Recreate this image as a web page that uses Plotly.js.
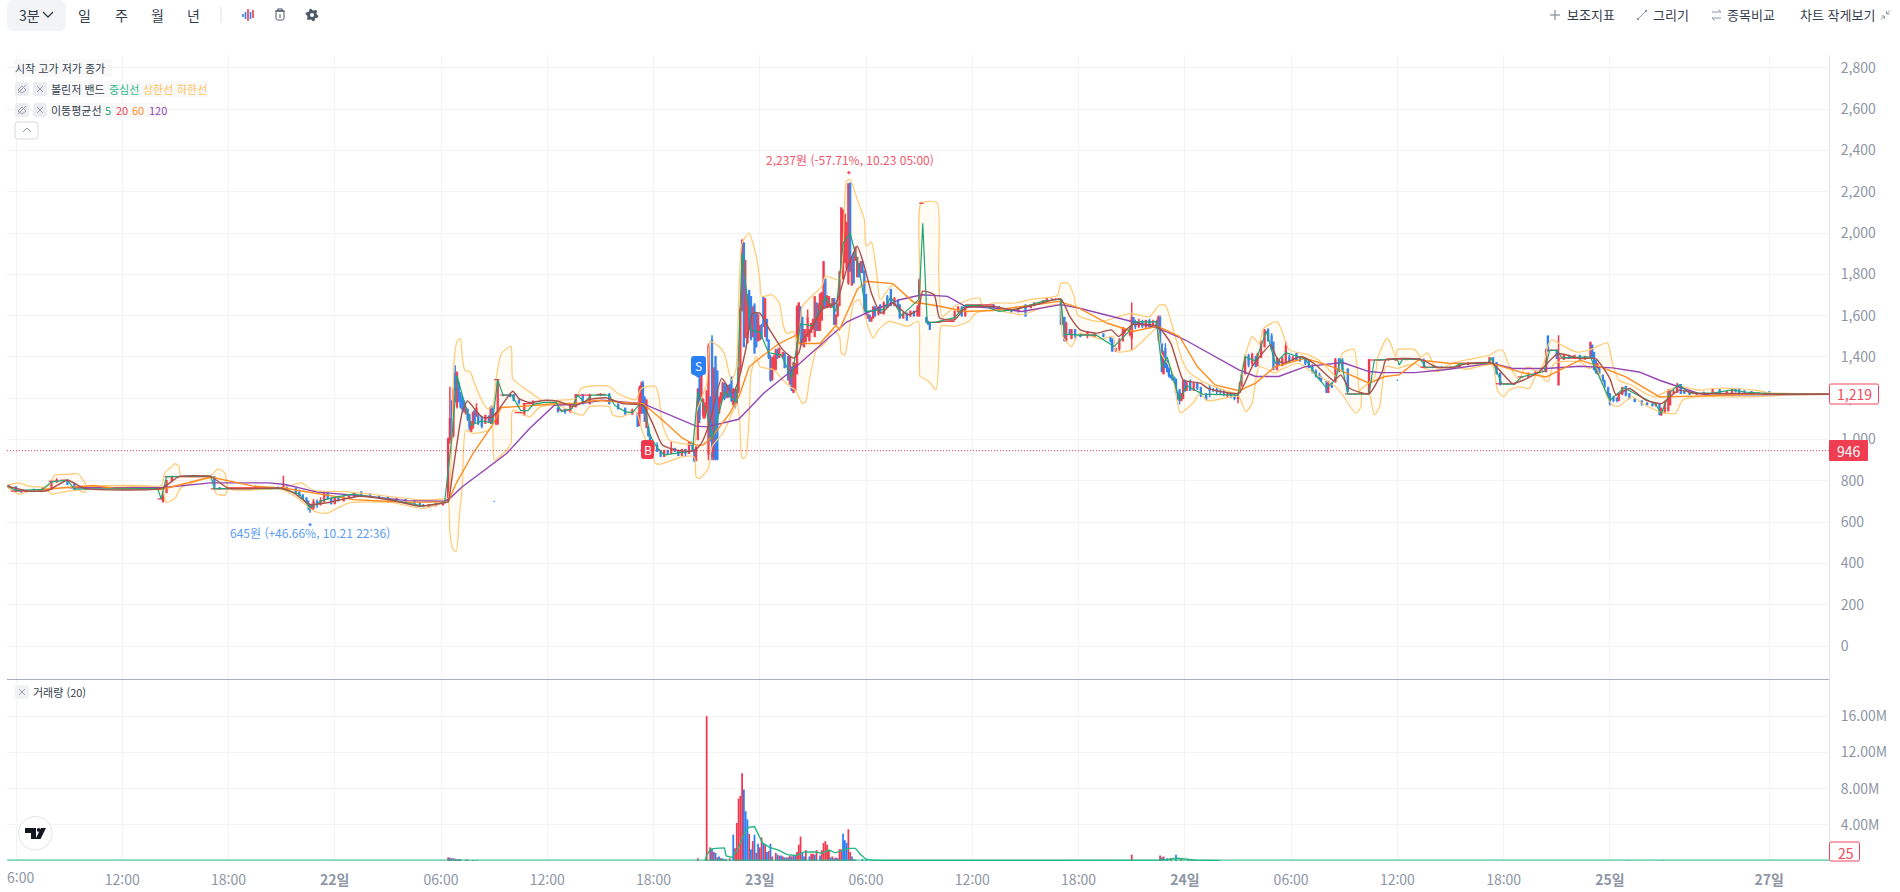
<!DOCTYPE html>
<html lang="ko">
<head>
<meta charset="utf-8">
<script src="https://cdn.plot.ly/plotly-3.0.1.min.js"></script>
<style>html,body{margin:0;padding:0;background:#fff;overflow:hidden}#chart{width:1900px;height:892px}</style>
</head>
<body>
<div id="chart"></div>
<script>
// Time unit: trading hours since 06:00 on the 21st.
const timeTicks = [0,6,12,18,24,30,36,42,48,54,60,66,72,78,84,90,99];
const timeTickText = ['','12:00','18:00','<b>22일</b>','06:00','12:00','18:00','<b>23일</b>','06:00','12:00','18:00','<b>24일</b>','06:00','12:00','18:00','<b>25일</b>','<b>27일</b>'];
const priceTicks = [0,200,400,600,800,1000,1200,1400,1600,1800,2000,2200,2400,2600,2800];
const volumeTicks = [4,8,12,16];
const volumeTickText = ['4.00M','8.00M','12.00M','16.00M'];

const candleTime = [
-0.4,0,0.3,0.6,1.0,1.5,2.0,2.3,2.9,3.3,
8.0,8.3,8.5,8.8,11.2,11.5,13.5,14.8,15.1,15.3,
15.8,16.0,16.2,16.4,16.5,16.6,16.7,16.8,17.0,17.2,
17.4,17.6,17.8,18.0,18.2,18.5,18.8,19.1,19.5,20.0,
20.5,21,21.5,22,22.5,22.8,23,23.3,23.7,24.1,
24.4,24.5,24.6,24.7,24.8,24.9,25,25.1,25.2,25.3,
25.4,25.5,25.6,25.7,25.8,25.9,26,26.1,26.3,26.5,
26.7,26.8,26.9,27,27.1,27.2,27.5,27.9,28.1,28.4,
28.7,29.2,30.6,31,31.3,31.6,32,32.4,33,33.5,
34,34.4,34.8,35.1,35.2,35.3,35.4,35.5,35.6,35.7,
35.8,35.9,36,36.2,36.4,36.6,36.8,37,37.2,37.4,
37.6,37.8,38,38.1,38.2,38.3,38.4,38.5,38.6,38.7,
38.8,38.9,39,39.1,39.2,39.3,39.4,39.5,39.6,39.7,
39.8,39.9,40,40.1,40.2,40.3,40.4,40.5,40.6,40.7,
40.8,40.9,41,41.1,41.2,41.3,41.4,41.5,41.6,41.7,
41.8,41.9,42,42.1,42.2,42.3,42.4,42.5,42.6,42.7,
42.8,42.9,43,43.1,43.3,43.4,43.6,43.7,43.8,43.9,
44,44.1,44.2,44.3,44.4,44.5,44.6,44.7,44.8,44.9,
45,45.1,45.2,45.3,45.4,45.5,45.6,45.7,45.8,45.9,
46,46.1,46.2,46.3,46.4,46.5,46.6,46.7,46.8,46.9,
47,47.1,47.2,47.3,47.4,47.5,47.6,47.7,47.8,47.9,
48,48.1,48.2,48.3,48.4,48.5,48.7,48.8,49,49.2,
49.4,49.6,49.8,49.9,50.1,50.3,50.5,50.7,50.9,51,
51.1,51.2,51.4,51.5,51.6,52.2,53,53.2,53.4,53.6,
54.4,54.8,55.2,55.5,55.8,56.2,56.6,57,57.3,57.5,
57.8,58,58.2,58.5,58.7,58.9,59,59.1,59.2,59.3,
59.5,59.6,59.8,60.1,60.5,60.9,61.4,61.8,61.9,62.1,
62.3,62.5,62.6,62.9,63,63.1,63.2,63.4,63.6,63.8,
64,64.2,64.4,64.5,64.6,64.7,64.8,64.9,65,65.1,
65.2,65.3,65.4,65.5,65.6,65.7,65.8,65.9,66,66.1,
66.3,66.5,66.7,66.9,67.2,67.4,67.6,67.8,68,68.2,
68.4,68.6,68.8,69,69.1,69.2,69.4,69.6,69.8,70,
70.1,70.3,70.5,70.7,70.9,71,71.2,71.3,71.5,71.7,
71.9,72.1,72.3,72.5,72.8,73,73.2,73.4,73.6,73.7,
74,74.1,74.3,74.5,74.7,74.9,75.2,75.6,76,76.4,
77,77.5,77.9,78,78.5,79,79.5,80,80.5,81,
81.5,82,82.5,83,83.2,83.4,83.6,83.8,84.2,84.6,
85,85.4,85.8,86.2,86.4,86.5,86.7,87,87.1,87.4,
87.7,88,88.3,88.6,88.9,89,89.1,89.2,89.3,89.4,
89.6,89.7,89.9,90,90.2,90.4,90.5,90.7,90.9,91.1,
91.4,91.8,92.1,92.4,92.6,92.8,92.9,93.1,93.3,93.4,
93.6,93.8,94,94.2,94.5,94.9,95.3,95.8,96.2,96.6,
96.9,97.1,97.3,97.6,98,98.4,98.8,99,99.5,100];
const candleOpen = [
775,770,750,752,758,755,760,795,800,785,
760,700,745,800,818,765,772,768,768,775,
760,745,730,715,700,680,665,670,700,690,
700,740,715,690,720,705,720,725,745,735,
725,718,710,708,705,690,680,678,680,685,
700,1000,1100,1020,1320,1160,1270,1220,1200,1180,
1130,1145,1120,1040,1060,1140,1120,1120,1110,1080,
1110,1085,1160,700,1080,1080,1215,1215,1215,1190,
1120,1170,1150,1140,1135,1160,1215,1175,1215,1218,
1170,1150,1125,1125,1075,1130,1270,1200,1060,1060,
1020,985,950,970,945,920,945,935,955,945,
925,950,935,985,975,950,900,1000,1290,1200,
1120,1110,1140,930,1200,1480,910,1400,1330,1130,
1180,1200,1270,1260,1210,1260,1300,1170,1240,1180,
1240,1340,1630,1950,1500,1470,1720,1690,1500,1650,
1610,1480,1485,1550,1690,1500,1580,1480,1400,1290,
1340,1340,1430,1400,1400,1415,1400,1270,1350,1230,
1240,1320,1470,1640,1590,1450,1480,1500,1480,1520,
1540,1500,1660,1530,1530,1580,1640,1775,1640,1645,
1640,1650,1680,1560,1600,1650,1810,1780,1860,1830,
1760,2240,1750,1900,1870,1790,1850,1810,1860,1815,
1700,1590,1600,1575,1590,1640,1610,1650,1610,1690,
1725,1650,1670,1650,1590,1610,1600,1620,1600,1600,
2144,2144,1590,1570,1560,1570,1590,1620,1640,1600,
1650,1650,1650,1640,1630,1625,1620,1650,1640,1650,
1660,1660,1670,1680,1680,1680,1670,1560,1590,1480,
1530,1490,1530,1510,1510,1500,1510,1490,1480,1430,
1440,1480,1520,1510,1490,1590,1570,1550,1570,1550,
1575,1550,1570,1570,1590,1460,1320,1440,1380,1340,
1310,1310,1300,1290,1220,1240,1190,1200,1280,1240,
1280,1240,1270,1250,1215,1250,1240,1240,1235,1235,
1215,1220,1210,1200,1230,1260,1320,1405,1370,1400,
1360,1400,1450,1530,1500,1470,1340,1380,1360,1370,
1400,1390,1415,1390,1390,1380,1350,1330,1310,1300,
1280,1230,1270,1280,1385,1380,1340,1221,1221,1221,
1385,1385,1385,1287,1388,1389,1380,1350,1350,1350,
1350,1365,1368,1370,1370,1395,1370,1320,1268,1268,
1303,1303,1320,1330,1330,1500,1432,1432,1265,1390,
1405,1395,1405,1395,1405,1455,1420,1380,1320,1345,
1310,1280,1250,1220,1205,1200,1190,1220,1255,1220,
1195,1185,1175,1170,1165,1170,1120,1130,1140,1170,
1225,1230,1265,1230,1225,1220,1222,1225,1240,1225,
1230,1240,1245,1235,1230,1225,1225,1230,1219,1219];
const candleClose = [
770,752,748,750,755,762,792,803,785,760,
760,745,800,820,765,762,768,768,775,770,
745,730,715,705,680,662,672,698,685,705,
740,715,690,720,705,720,725,740,735,725,
718,710,712,705,690,682,678,680,685,690,
1000,1100,1020,1240,1240,1320,1190,1160,1150,1140,
1150,1100,1060,1075,1130,1090,1150,1080,1065,1115,
1090,1155,1085,700,1125,1280,1215,1210,1190,1180,
1170,1180,1140,1135,1160,1215,1175,1215,1218,1175,
1150,1125,1140,1065,1245,1260,1130,1090,1190,1020,
985,950,970,945,920,945,935,955,945,925,
950,935,985,975,950,900,960,1240,1100,1350,
1190,1170,1230,1450,1000,920,1340,910,905,1200,
1220,1270,1200,1210,1260,1210,1190,1240,1160,1240,
1340,1630,1960,1450,1680,1700,1540,1490,1640,1420,
1450,1600,1550,1490,1550,1680,1480,1400,1290,1390,
1400,1430,1400,1440,1420,1350,1290,1400,1240,1370,
1360,1640,1660,1470,1460,1530,1490,1590,1530,1560,
1580,1690,1530,1650,1700,1710,1860,1645,1690,1690,
1650,1680,1560,1600,1650,1810,2120,2110,2090,2050,
2237,1820,1880,1760,1930,1880,1790,1860,1810,1620,
1610,1600,1575,1590,1640,1600,1640,1615,1660,1640,
1650,1680,1640,1590,1610,1580,1620,1600,1640,1770,
2144,2144,1570,1560,1535,1570,1620,1640,1600,1645,
1650,1650,1640,1630,1625,1620,1630,1600,1650,1660,
1660,1670,1680,1680,1680,1680,1560,1590,1480,1560,
1510,1530,1510,1500,1520,1510,1500,1480,1430,1440,
1480,1540,1530,1530,1590,1570,1550,1570,1550,1575,
1550,1570,1555,1590,1470,1330,1420,1350,1330,1310,
1300,1290,1280,1230,1200,1190,1220,1280,1240,1270,
1240,1270,1250,1215,1195,1240,1240,1235,1235,1225,
1220,1210,1200,1220,1270,1310,1400,1365,1410,1355,
1410,1460,1530,1480,1440,1340,1390,1360,1390,1450,
1380,1395,1385,1385,1370,1350,1330,1310,1300,1290,
1230,1280,1255,1385,1330,1340,1235,1221,1221,1385,
1385,1385,1388,1287,1389,1390,1350,1350,1350,1350,
1365,1368,1370,1370,1395,1370,1320,1268,1268,1268,
1303,1320,1330,1330,1432,1430,1432,1395,1395,1405,
1395,1405,1395,1400,1470,1400,1340,1330,1365,1320,
1285,1255,1215,1175,1190,1190,1215,1250,1215,1200,
1185,1175,1170,1165,1170,1125,1150,1170,1235,1230,
1230,1260,1225,1225,1220,1222,1225,1240,1225,1230,
1245,1235,1230,1230,1225,1225,1220,1222,1219,1219];
const candleHigh = [
785,772,756,756,762,770,800,812,805,790,
765,750,805,825,820,770,775,772,825,778,
765,750,735,720,705,685,690,712,710,720,
748,745,720,725,728,725,730,745,750,740,
730,722,718,712,708,695,688,686,692,695,
1010,1255,1190,1250,1360,1330,1280,1230,1215,1190,
1160,1150,1125,1090,1135,1145,1175,1125,1115,1120,
1118,1160,1165,702,1130,1290,1220,1225,1220,1195,
1175,1190,1160,1150,1170,1220,1220,1222,1225,1225,
1175,1155,1150,1130,1260,1280,1285,1210,1195,1065,
1025,990,980,985,950,950,950,990,960,950,
955,955,990,990,980,955,970,1250,1320,1360,
1200,1180,1240,1465,1210,1505,1350,1405,1335,1210,
1230,1280,1275,1270,1265,1270,1305,1250,1245,1245,
1350,1640,1970,1955,1870,1705,1725,1695,1645,1660,
1615,1610,1555,1560,1695,1685,1585,1485,1410,1400,
1410,1440,1440,1445,1425,1420,1405,1405,1355,1375,
1370,1650,1665,1645,1595,1535,1535,1630,1535,1565,
1585,1695,1665,1660,1710,1715,1865,1780,1700,1695,
1660,1685,1685,1605,1660,1815,2125,2115,2095,2055,
2237,2245,1890,1905,1935,1885,1855,1865,1865,1820,
1705,1610,1605,1595,1645,1645,1645,1655,1670,1700,
1730,1690,1680,1655,1620,1615,1625,1625,1650,1780,
2147,2148,1595,1575,1565,1575,1625,1645,1645,1650,
1655,1655,1655,1645,1635,1630,1635,1655,1655,1665,
1665,1675,1685,1685,1685,1685,1675,1595,1595,1570,
1535,1535,1535,1515,1525,1515,1515,1500,1490,1445,
1490,1545,1540,1545,1664,1590,1580,1585,1580,1580,
1585,1580,1580,1600,1600,1466,1430,1466,1385,1350,
1315,1320,1305,1295,1230,1245,1225,1290,1290,1280,
1290,1280,1280,1255,1225,1265,1250,1255,1245,1240,
1230,1230,1220,1225,1281,1321,1410,1415,1420,1405,
1420,1480,1535,1539,1515,1474,1400,1390,1402,1474,
1410,1405,1420,1395,1395,1385,1365,1340,1325,1305,
1285,1285,1275,1395,1395,1395,1345,1224,1224,1390,
1390,1390,1392,1289,1392,1392,1392,1355,1355,1355,
1370,1375,1375,1375,1400,1398,1375,1325,1272,1272,
1306,1325,1335,1335,1440,1505,1436,1436,1505,1410,
1410,1410,1410,1405,1473,1460,1425,1385,1372,1350,
1315,1290,1255,1225,1210,1205,1220,1255,1258,1225,
1200,1190,1180,1175,1180,1175,1155,1185,1245,1240,
1240,1275,1268,1235,1230,1228,1232,1245,1245,1235,
1250,1250,1248,1238,1235,1230,1228,1232,1222,1220];
const candleLow = [
762,748,742,745,750,750,755,790,780,755,
755,695,740,795,760,758,765,765,765,765,
740,725,710,690,660,645,660,660,670,680,
695,710,685,688,700,700,715,720,730,720,
712,705,704,700,685,675,672,672,675,680,
700,980,1010,1010,1180,1150,1180,1150,1140,1130,
1120,1090,1045,1035,1050,1080,1110,1070,1055,1075,
1085,1075,1075,698,1070,1070,1210,1205,1185,1170,
1115,1165,1130,1125,1130,1155,1170,1170,1210,1170,
1145,1120,1120,1060,1065,1125,1125,1085,1055,1015,
980,945,945,940,915,915,930,930,940,920,
920,915,930,970,945,890,895,1000,1080,1190,
1100,1100,1130,900,990,900,900,900,900,1125,
1170,1195,1190,1200,1200,1205,1180,1165,1150,1170,
1225,1320,1620,1450,1490,1465,1530,1480,1495,1415,
1445,1475,1480,1485,1545,1495,1475,1390,1280,1285,
1335,1335,1390,1395,1395,1345,1285,1265,1235,1225,
1235,1315,1465,1465,1455,1445,1470,1495,1475,1515,
1530,1495,1525,1525,1525,1575,1635,1640,1635,1640,
1635,1645,1555,1555,1595,1645,1805,1775,1855,1825,
1750,1810,1745,1755,1865,1785,1785,1805,1805,1615,
1600,1585,1570,1570,1585,1595,1600,1610,1605,1635,
1645,1645,1630,1585,1585,1575,1595,1595,1595,1595,
2140,2140,1565,1555,1530,1565,1585,1615,1595,1595,
1645,1645,1635,1625,1620,1615,1615,1595,1635,1645,
1655,1655,1665,1675,1675,1675,1555,1555,1475,1475,
1505,1485,1490,1495,1490,1495,1495,1470,1425,1425,
1430,1475,1510,1500,1434,1555,1535,1540,1540,1540,
1540,1545,1545,1480,1465,1325,1315,1345,1325,1300,
1295,1285,1275,1225,1190,1170,1185,1195,1230,1235,
1235,1235,1240,1205,1190,1205,1230,1215,1220,1210,
1205,1200,1190,1175,1225,1256,1315,1350,1355,1350,
1355,1395,1445,1475,1435,1335,1335,1355,1355,1365,
1375,1380,1380,1375,1360,1345,1320,1300,1290,1280,
1225,1225,1250,1275,1325,1335,1230,1218,1218,1218,
1380,1380,1380,1285,1385,1385,1345,1345,1345,1345,
1345,1360,1365,1365,1365,1365,1315,1262,1264,1264,
1298,1300,1318,1325,1325,1425,1428,1390,1263,1385,
1390,1390,1385,1385,1400,1395,1335,1320,1315,1310,
1280,1250,1205,1165,1180,1180,1185,1215,1210,1195,
1180,1165,1165,1160,1160,1118,1115,1125,1135,1165,
1220,1225,1220,1220,1215,1216,1220,1222,1220,1222,
1225,1228,1225,1225,1220,1220,1218,1218,1217,1218];

// Stretches where the price did not move (start, end, gap).
const flatTime = [-0.3,0.7,null,1.2,1.8,null,1.85,2.4,null,2.5,3,null,8,8.3,null,8.4,11,null,11,12,null,12,15,null,27,27.3,null,27.35,27.95,null,28.15,28.6,null,28.6,29.2,null,30.6,31.35,null,31.6,32.4,null,32.75,33.3,null,34.85,35.4,null,51,51.2,null,51.5,52.2,null,52.2,53,null,53.6,55.2,null,60.1,61,null,75.05,76.4,null,76.4,77.35,null,77.35,79.3,null,79.3,80.25,null,81.2,83.35,null,83.55,84.7,null,84.8,85.15,null,86.5,87.05,null,87.15,88.8,null,99,102.4];
const flatPrice = [750,750,null,757,757,null,798,798,null,803,803,null,712,712,null,820,820,null,761,761,null,766,766,null,1290,1290,null,1215,1215,null,1130,1130,null,1174,1174,null,1142,1142,null,1215,1215,null,1218,1218,null,1174,1174,null,2144,2144,null,1567,1567,null,1572,1572,null,1652,1652,null,1506,1506,null,1221,1221,null,1385,1385,null,1389,1389,null,1350,1350,null,1369,1369,null,1270,1270,null,1303,1303,null,1432,1432,null,1394,1394,null,1219,1219];

const ma120Time = [3,8.2,11,14.3,15.2,17,19.8,22.1,24.2,24.5,25.2,27,27.7,29,30.4,31.6,33.1,35.4,36.5,38.4,39,40.8,41.4,42.2,43.7,45,46.3,46.9,48,49.9,51.15,52.6,53.6,55.2,56.8,59,60,62.65,64.5,66,67.7,69.05,70,71.3,72.8,74.9,76.4,77.1,79,80.9,83.35,84.5,86.4,88.3,90.15,91.65,92.8,93.9,95,95.75,99.5,102.4];
const ma120Price = [766,766,790,790,782,745,725,704,701,715,771,884,932,1053,1166,1171,1190,1174,1134,1065,1061,1098,1150,1223,1327,1424,1521,1569,1612,1677,1701,1693,1645,1637,1620,1653,1637,1580,1539,1483,1402,1337,1305,1305,1353,1373,1329,1324,1324,1340,1370,1344,1344,1355,1347,1327,1287,1255,1223,1215,1219,1219];

const ma60Time = [1.4,4.4,5.5,8.2,11,13.4,15.2,17.3,19.1,22,24.2,24.4,24.85,25.8,26.9,27.4,28.6,29.6,30.6,31.6,32.8,33.9,35.4,36.5,37.65,38.4,38.8,39.3,40.3,40.85,41.4,42.2,43.1,44.05,44.2,45.4,46.3,46.5,47.5,48,49.5,50.75,51.05,52.15,53.6,55.2,57.6,58.9,60,61.6,63.05,64.45,65.7,66.7,67.7,69.05,70,71.1,72.8,74.3,76.4,77.3,78.1,79.2,80.9,83.35,85.1,86.4,88.3,89.2,90.9,91.85,92.8,94.85,97.65,102.4];
const ma60Price = [758,777,764,758,818,774,764,734,709,696,696,698,787,932,1069,1155,1161,1166,1174,1174,1190,1182,1174,1094,1005,973,973,1013,1126,1215,1352,1408,1465,1505,1465,1465,1553,1531,1726,1766,1755,1661,1661,1645,1620,1625,1653,1669,1637,1564,1523,1548,1499,1353,1264,1236,1273,1353,1393,1353,1273,1305,1313,1385,1369,1368,1323,1303,1384,1360,1303,1255,1206,1210,1219,1219];

const ma20Time = [-0.5,0.7,1.8,2.9,3.9,8.2,9.2,11,12,15,15.7,16.6,17.5,18.2,19.4,21.2,22.8,24.2,24.4,24.65,25.2,25.5,25.8,26.35,26.9,27.5,28.05,28.4,29,29.9,30.6,31.45,32.4,33.3,34.25,35.4,35.95,36.5,37.3,38.3,38.7,39.15,39.85,40.45,40.75,41.2,41.6,42,42.5,43.3,43.9,44.2,44.4,44.9,45.5,46.3,46.9,47.5,47.9,48.3,48.85,49.5,50.35,50.95,51.2,51.85,52.15,53,53.6,55.2,56.2,57.6,59,59.5,60.1,61,61.85,62.25,63.05,64.45,65.2,65.9,66.3,66.9,67.3,69.05,69.8,70.85,71.15,71.5,72.6,73.4,74.4,74.8,75.3,76.4,77.15,77.35,79.3,80.25,81.2,81.85,83.35,84.5,85.1,86,87.05,88.3,89.2,90,90.35,91.1,92.05,92.9,93.9,94.85,97.65,99,102.4];
const ma20Price = [775,750,753,803,763,763,820,820,764,764,740,685,693,706,725,706,677,693,698,835,1134,1187,1158,1106,1110,1174,1234,1198,1179,1190,1185,1161,1194,1202,1174,1166,1077,973,948,945,981,1078,1296,1224,1272,1434,1612,1612,1539,1434,1394,1418,1483,1531,1629,1661,1823,1936,1839,1710,1612,1661,1604,1629,1718,1701,1588,1580,1637,1645,1629,1653,1680,1596,1531,1515,1531,1499,1556,1548,1467,1288,1280,1272,1248,1224,1353,1458,1402,1369,1402,1361,1285,1313,1248,1221,1329,1385,1389,1350,1350,1366,1370,1271,1287,1327,1416,1392,1392,1295,1215,1247,1190,1174,1239,1223,1223,1219,1219];

const ma5Time = [-0.4,0,1.5,2,2.9,3.3,8,8.2,8.5,11,11.2,15,16,16.6,17.3,18,19,21,23,24.2,24.6,24.9,25.2,25.7,26.3,26.9,27.2,27.5,28,28.5,28.9,29.2,29.8,30.5,30.8,31.4,31.7,32.1,32.5,33.5,33.8,34.4,34.8,35.2,35.5,35.8,36.2,36.6,37.4,38.2,38.5,39,39.3,39.6,40,40.7,41,41.5,42,42.5,43.2,43.8,44.3,45,45.7,46.3,46.7,47.1,47.6,48,49,49.4,50,51,51.2,51.45,52,53,53.6,54.5,55.5,56.5,58,59,59.2,60,61,62,62.8,63.1,64.4,64.7,65,65.7,66.1,67,69,69.4,70,70.6,71.1,71.7,72.6,72.8,73.5,74,74.5,74.8,75.2,76.4,76.7,78,78.1,78.3,79.3,79.6,81.2,81.5,83.1,83.3,83.9,84.6,85,86.3,86.6,87,87.3,88.9,89.2,90,90.8,92.6,92.9,93.4,93.9,94.5,95.8,96.9,97.6,99,102.4];
const ma5Price = [770,752,758,795,803,760,762,712,820,823,762,763,735,670,705,720,735,712,678,695,1000,1310,1215,1070,1090,1080,1290,1215,1215,1140,1140,1170,1180,1180,1135,1150,1215,1180,1215,1215,1165,1135,1130,1170,1160,1020,960,925,935,945,1230,1130,1000,1100,1230,1180,1900,1530,1520,1420,1410,1300,1560,1550,1690,1620,1950,2000,1830,1620,1630,1690,1600,1680,2047,1565,1570,1590,1650,1650,1620,1630,1670,1680,1510,1505,1505,1450,1520,1570,1570,1350,1400,1190,1260,1220,1215,1400,1380,1525,1370,1420,1395,1390,1300,1250,1290,1390,1220,1221,1385,1389,1360,1389,1389,1350,1350,1366,1370,1395,1268,1268,1303,1330,1432,1432,1395,1400,1340,1190,1250,1170,1125,1230,1265,1225,1225,1240,1230,1222,1219];

const bbUpperTime = [-0.5,0.2,0.7,1.8,2.2,2.9,3.5,3.9,4,5.5,8.2,8.4,8.8,9,9.2,9.3,11,11.4,11.8,12,15,16.1,16.8,18.7,21,22.8,24.2,24.4,24.75,24.9,25.1,25.2,25.35,25.65,25.9,26.3,26.6,26.9,27.1,27.4,27.95,28.05,28.6,29.4,29.7,30.6,31.6,31.9,32.4,33.5,34,35,35.3,36.1,36.3,36.5,36.9,38.3,38.4,39,39.2,39.8,40,40.4,40.65,41,41.4,41.6,41.8,42,42.1,42.7,43.1,43.3,43.5,43.9,44.2,44.4,45.5,45.7,46.5,46.7,46.9,47.1,47.5,47.9,48,48.3,48.6,48.8,49.5,49.9,50.7,51,51.1,52,52.1,52.3,53,53.8,54.4,54.6,55.2,56.4,57.4,58.8,59,59.4,59.75,59.95,61.2,62.95,64,64.55,64.9,65.3,65.85,66.2,67.2,68.9,69.05,69.25,69.8,70.2,70.45,71.2,71.5,71.9,73,73.8,74.55,74.9,75.55,75.85,75.9,76.7,76.9,77.4,77.6,77.9,78,79,79.3,79.7,80.25,81.2,81.85,83.2,83.65,83.95,84.3,84.9,85.1,85.45,85.9,86.3,86.5,86.75,87.3,88.1,88.8,89.85,90.15,90.5,91.25,92,92.6,92.95,93.9,95,95.8,97.1,98.2,99,100.1,102.4];
const bbUpperPrice = [780,790,774,774,828,831,834,790,774,777,777,838,870,883,870,826,826,858,838,763,765,790,754,748,725,709,712,715,1400,1473,1489,1400,1335,1327,1270,1190,1150,1158,1287,1416,1451,1295,1255,1206,1190,1190,1198,1247,1258,1258,1222,1193,1247,1258,1206,1077,997,980,1126,1271,1475,1442,1416,1288,1337,1953,2000,1953,1888,1774,1693,1701,1661,1564,1515,1523,1450,1645,1742,1790,1774,1936,2252,2260,2163,2066,1936,1956,1807,1677,1750,1726,1661,1677,2144,2147,1807,1596,1645,1677,1685,1645,1661,1661,1680,1697,1757,1757,1692,1603,1571,1611,1595,1651,1651,1547,1385,1329,1272,1224,1232,1353,1498,1466,1539,1571,1522,1434,1410,1369,1305,1418,1437,1224,1240,1300,1400,1490,1470,1400,1434,1434,1400,1418,1340,1372,1385,1408,1432,1432,1360,1287,1335,1352,1327,1376,1456,1484,1456,1424,1432,1468,1368,1287,1263,1223,1206,1223,1258,1239,1247,1247,1239,1226,1223,1219];

const bbLowerTime = [-0.5,0.2,0.7,1.8,2,2.8,3.5,3.9,4,8.2,8.5,9,9.3,11,11.3,11.8,12,15,15.9,16.8,17.5,18.2,18.9,21.2,23,24.2,24.4,24.5,24.65,24.85,25.05,25.2,25.4,25.8,26.7,26.9,27,27.4,27.95,28.05,29,29.6,30.6,31.6,32,32.4,33.5,33.7,34.2,35,35.4,35.8,36.1,36.4,37.6,38.3,38.4,38.6,39.1,39.3,39.9,40.4,40.7,40.85,41,41.2,41.4,41.5,41.8,42,42.8,43.3,43.7,44,44.4,44.6,44.8,45.2,45.7,46.1,46.5,46.6,46.8,47,47.3,47.6,47.9,48.1,48.4,48.7,49.3,50.35,50.95,51.05,51.25,51.55,51.95,52.15,52.25,53,53.8,54.2,55.2,56.8,57.6,58.9,59.1,59.6,59.9,60.1,61.25,61.95,62.15,63.05,64.45,64.65,65.25,65.75,66.45,66.85,67.25,68.9,69.05,69.45,69.8,70.2,71.1,71.4,72.45,73,74.5,74.9,75.65,75.95,76,76.4,76.7,77,77.35,78,79,79.3,80.25,81.2,81.85,83.35,83.65,84,84.3,84.9,85.45,85.9,86.5,86.85,88.3,88.8,89.2,89.85,90.15,90.5,91.25,91.85,92.8,93.7,94.1,94.85,97.65,99,100.1,102.4];
const bbLowerPrice = [770,735,748,751,735,748,755,743,765,765,695,717,765,810,738,730,760,757,717,654,642,670,695,695,666,695,697,545,472,456,642,771,1045,1029,1045,1069,900,924,980,1142,1110,1158,1166,1126,1118,1158,1158,1118,1110,1134,1029,965,884,881,916,916,819,811,860,965,1029,1118,1174,1110,908,916,1110,1320,1402,1353,1337,1288,1256,1240,1175,1183,1288,1434,1467,1531,1499,1418,1410,1499,1661,1677,1612,1548,1491,1531,1572,1548,1572,1305,1297,1280,1240,1483,1551,1548,1572,1612,1628,1604,1628,1653,1499,1450,1499,1515,1486,1499,1426,1434,1539,1418,1337,1130,1175,1224,1188,1211,1208,1135,1176,1353,1321,1337,1369,1337,1256,1216,1127,1160,1221,1221,1119,1160,1353,1345,1369,1353,1329,1353,1340,1361,1239,1206,1239,1255,1247,1319,1279,1368,1376,1344,1352,1206,1166,1161,1206,1174,1134,1126,1190,1206,1206,1210,1216,1219];

const volumeUpTime = [24.4,24.6,24.8,25,25.4,25.8,38.5,39,39.2,39.4,39.6,39.8,40,40.3,40.6,40.7,40.8,40.9,41,41.4,41.6,41.8,42,42.1,42.3,42.5,42.7,42.9,43.1,43.3,43.5,43.7,43.9,44.1,44.2,44.3,44.6,44.9,45,45.2,45.5,45.6,45.7,45.8,45.9,46.1,46.3,46.5,46.6,47,47.1,47.3,63,64.6,64.8,65.2,65.8,66.4];
const volumeUp = [.4,.3,.25,.2,.15,.1,.3,16,1.5,1,.4,.3,.2,.3,1.4,4.2,6.9,7.2,9.7,3,2.2,.9,1.5,2.6,1.8,1.1,.5,.9,.6,.5,.4,.6,.6,1,1.8,2.7,1.2,.8,.8,1.2,1.2,2,2.2,1.8,1.1,.5,.4,1.3,1.3,3.5,1,.2,.7,.6,.5,.3,.3,.15];
const volumeDownTime = [24.5,24.7,24.9,25.1,25.5,26,39.3,39.5,39.7,39.9,40.1,40.5,41.1,41.2,41.3,41.5,41.7,41.9,42.2,42.4,42.6,43,43.2,43.4,43.6,43.8,44,44.4,44.5,44.8,45.1,45.4,46,46.2,46.4,46.7,46.8,46.9,47.2,47.4,47.8,48,64.7,65,65.5,66.2,66.6,91,93];
const volumeDown = [.35,.3,.2,.2,.15,.1,1.3,.9,.5,.3,.2,2.9,7.9,5.5,4.6,1.3,2.9,1.9,2,1,1.9,.7,.6,.4,.4,.5,.6,1,.5,.5,.7,.6,.4,.3,.3,3,2.3,2,.5,.15,.2,.1,.4,.3,.7,.2,.15,.05,.05];
const volumeMaTime = [38.9,39,39.2,39.5,40,40.1,40.45,40.75,41.05,41.35,41.7,41.95,42.15,42.55,43.05,43.55,44.05,44.5,45.2,45.5,45.9,46.25,47,47.4,47.7,48,48.5,51.3,63,64.6,65.6,66.65,68];
const volumeMa = [.04,.6,1.3,1.4,1.45,.55,.4,1.3,2.7,3.7,3.8,2.7,2,1.5,1.2,.7,.6,1,1,.85,1.2,.9,1.4,1.4,.7,.2,.07,.05,.05,.1,.3,.1,.04];
const volumeBaseTime = [-0.5,102.4];
const volumeBase = [.04,.04];

const lastPrice = 1219, avgBuyPrice = 946, lastVolume = 25;

const RED='#f0394f', BLUE='#2b7ff5', GREEN='#1fa573', BROWN='#a8504b', ORANGE='#ff8c1f', PURPLE='#9345b4', BAND='#ffca73', GRID='#f2f3f5', TICK='#8d96a5', INK='#333d4b';
const KR='"Noto Sans CJK KR","Noto Sans",sans-serif';
const W=1900,H=892, L=7,R=1829;
const px=x=>x/W, py=y=>1-y/H;

function lineTrace(x,y,color,width,xa,ya,extra){
  return Object.assign({type:'scatter',mode:'lines',x,y,xaxis:xa,yaxis:ya,hoverinfo:'skip',line:{color,width}},extra||{});
}
const traces=[
  {type:'bar',x:volumeUpTime,y:volumeUp,width:0.1,marker:{color:RED,line:{width:0}},xaxis:'x',yaxis:'y',hoverinfo:'skip'},
  {type:'bar',x:volumeDownTime,y:volumeDown,width:0.1,marker:{color:BLUE,line:{width:0}},xaxis:'x',yaxis:'y',hoverinfo:'skip'},
  lineTrace(volumeBaseTime,volumeBase,'rgba(45,190,135,0.62)',2.6,'x','y',{cliponaxis:false}),
  lineTrace(volumeMaTime,volumeMa,'#25b884',1.4,'x','y'),
  lineTrace(bbUpperTime,bbUpperPrice,BAND,1.2,'x2','y2',{line:{color:BAND,width:1.2,shape:'spline',smoothing:0.6}}),
  lineTrace(bbLowerTime,bbLowerPrice,BAND,1.2,'x2','y2',{line:{color:BAND,width:1.2,shape:'spline',smoothing:0.6},fill:'tonexty',fillcolor:'rgba(255,205,110,0.07)'}),
  {type:'candlestick',x:candleTime,open:candleOpen,high:candleHigh,low:candleLow,close:candleClose,xaxis:'x2',yaxis:'y2',whiskerwidth:0,hoverinfo:'skip',
    increasing:{line:{color:RED,width:1.5},fillcolor:RED},decreasing:{line:{color:BLUE,width:1.5},fillcolor:BLUE}},
  lineTrace(flatTime,flatPrice,RED,1.2,'x2','y2',{connectgaps:false}),
  lineTrace(ma120Time,ma120Price,PURPLE,1.4,'x2','y2'),
  lineTrace(ma60Time,ma60Price,ORANGE,1.4,'x2','y2'),
  lineTrace(ma5Time,ma5Price,GREEN,1.2,'x2','y2'),
  lineTrace(ma20Time,ma20Price,BROWN,1.4,'x2','y2',{line:{color:BROWN,width:1.4,shape:'spline',smoothing:0.5}}),
];

// ---- chrome helpers ----
const shapes=[], annotations=[];
function rrect(x0,y0,x1,y1,r,fill,stroke,below){
  const P=(x,y)=>px(x)+','+py(y);
  const d='M'+P(x0+r,y0)+' L'+P(x1-r,y0)+' Q'+P(x1,y0)+' '+P(x1,y0+r)+' L'+P(x1,y1-r)+' Q'+P(x1,y1)+' '+P(x1-r,y1)+' L'+P(x0+r,y1)+' Q'+P(x0,y1)+' '+P(x0,y1-r)+' L'+P(x0,y0+r)+' Q'+P(x0,y0)+' '+P(x0+r,y0)+' Z';
  shapes.push({type:'path',path:d,xref:'paper',yref:'paper',fillcolor:fill||'rgba(0,0,0,0)',line:{color:stroke||'rgba(0,0,0,0)',width:stroke?1:0},layer:below?'below':'above'});
}
function poly(pts,color,width,closed,fill){
  const d='M'+pts.map(p=>px(p[0])+','+py(p[1])).join(' L')+(closed?' Z':'');
  shapes.push({type:'path',path:d,xref:'paper',yref:'paper',fillcolor:fill||'rgba(0,0,0,0)',line:{color:color||'rgba(0,0,0,0)',width:width||0},layer:'above'});
}
function disc(cx,cy,r,fill){
  shapes.push({type:'circle',xref:'paper',yref:'paper',x0:px(cx-r),x1:px(cx+r),y0:py(cy+r),y1:py(cy-r),fillcolor:fill,line:{width:0},layer:'above'});
}
function text(t,x,y,size,color,anchor,family){
  annotations.push({text:t,x:px(x),y:py(y),xref:'paper',yref:'paper',showarrow:false,xanchor:anchor||'left',yanchor:'middle',font:{size,color,family:family||KR},borderpad:0,borderwidth:0});
}
// toolbar
rrect(7,0,66,31,7,'#f2f4f6',null);
text('3분',19,15,14,INK);
poly([[43,12],[48,17],[53,12]],INK,1.3);
text('일',84,15,14,INK,'center');text('주',121,15,14,INK,'center');text('월',157,15,14,INK,'center');text('년',193,15,14,INK,'center');
poly([[221,7],[221,23]],'#dde0e5',1);
[[243,14,17,BLUE],[245.5,12,19,BLUE],[248,9,21,RED],[250.5,12,19,BLUE],[253,10,18,RED]].forEach(v=>poly([[v[0],v[1]],[v[0],v[2]]],v[3],1.6));
poly([[275,11],[285,11]],'#4e5968',1.2);poly([[278,11],[278,9],[282,9],[282,11]],'#4e5968',1.2);
rrect(276,11,284,20,1.5,null,'#4e5968');poly([[280,14],[280,18]],'#4e5968',1);
// gear
(function(){const pts=[];const cx=312,cy=15;const teeth=[6.4,6.4,4.8,4.8];for(let i=0;i<24;i++){const a=i*Math.PI/12+Math.PI/24;pts.push([cx+teeth[i%4]*Math.cos(a),cy+teeth[i%4]*Math.sin(a)]);}
poly(pts,null,0,true,'#4e5968');disc(cx,cy,2,'#fff');})();
// right toolbar
poly([[1550,15],[1560,15]],'#8d96a5',1.3);poly([[1555,10],[1555,20]],'#8d96a5',1.3);
text('보조지표',1567,15,13,INK);
poly([[1639,18],[1645,12]],'#8d96a5',1);disc(1638,19,1.2,'#8d96a5');disc(1646,11,1.2,'#8d96a5');
text('그리기',1653,15,13,INK);
poly([[1712,12],[1721,12],[1718.5,9.5]],'#8d96a5',1);poly([[1721,18],[1712,18],[1714.5,20.5]],'#8d96a5',1);
text('종목비교',1727,15,13,INK);
text('차트 작게보기',1800,15,13,INK);
poly([[1881,19.5],[1884.5,16]],'#8d96a5',1);poly([[1881.5,16],[1884.5,16],[1884.5,19]],'#8d96a5',1);
poly([[1890,10.5],[1886.5,14]],'#8d96a5',1);poly([[1889.5,14],[1886.5,14],[1886.5,11]],'#8d96a5',1);
// legend
rrect(14,59,112,77,0,'rgba(247,248,249,0.8)',null);
text('시작 고가 저가 종가',15,68,11,INK);
rrect(50,81,208,97,0,'rgba(247,248,249,0.8)',null);
rrect(50,102,166,118,0,'rgba(247,248,249,0.8)',null);
[89,110].forEach(y=>{
  rrect(15,y-7,29,y+7,3,'#ebedf0',null);
  rrect(33,y-7,47,y+7,3,'#ebedf0',null);
  poly([[18,y+1],[22,y-3],[26,y+1],[22,y+4]],'#9aa1ac',1,true);
  poly([[18,y+4],[26,y-4]],'#9aa1ac',1);
  poly([[37,y-3],[43,y+3]],'#9aa1ac',1);poly([[43,y-3],[37,y+3]],'#9aa1ac',1);
});
text('볼린저 밴드',51,89,11,INK);
text('중심선',109,89,11,'#30bb87');
text('상한선',143,89,11,'#ffc25a');
text('하한선',177,89,11,'#ffc25a');
text('이동평균선',51,110,11,INK);
text('5',105,110,11,GREEN);
text('20',116,110,11,RED);
text('60',132,110,11,ORANGE);
text('120',149,110,11,PURPLE);
rrect(15,122,38,139,3,'#fff','#d5d9df');
poly([[23,132],[27,128],[31,132]],'#8d96a5',1);
// separator and price lines
shapes.push({type:'line',xref:'paper',yref:'paper',x0:px(L),x1:px(R),y0:py(679.5),y1:py(679.5),line:{color:'#a5aebc',width:1},layer:'above'});
shapes.push({type:'line',xref:'paper',yref:'y2',x0:px(L),x1:px(R),y0:avgBuyPrice,y1:avgBuyPrice,line:{color:RED,width:1,dash:'1px,2px'},layer:'above'});
// volume legend
rrect(15,685,29,699,3,'#f0f1f3',null);
poly([[19,689],[25,695]],'#9aa1ac',1);poly([[25,689],[19,695]],'#9aa1ac',1);
text('거래량 (20)',33,692,11,INK);
// first clipped time label
text('6:00',7,877,14,TICK);
// extreme labels
annotations.push({text:'645원 (+46.66%, 10.21 22:36)',x:16.6,y:549,xref:'x2',yref:'y2',showarrow:false,xanchor:'center',yanchor:'middle',font:{size:12,color:'#5a9cf2',family:KR}});
annotations.push({text:'◆',x:16.6,y:591,xref:'x2',yref:'y2',showarrow:false,font:{size:5,color:'#5a9cf2',family:'"DejaVu Sans"'}});
annotations.push({text:'2,237원 (-57.71%, 10.23 05:00)',x:47.1,y:2358,xref:'x2',yref:'y2',showarrow:false,xanchor:'center',yanchor:'middle',font:{size:12,color:'#f0566a',family:KR}});
annotations.push({text:'◆',x:47.03,y:2295,xref:'x2',yref:'y2',showarrow:false,font:{size:5,color:'#f0566a',family:'"DejaVu Sans"'}});
// trade tags
rrect(641,440,654,459,3,RED,null);
text('B',647.5,449.5,12,'#fff','center');
rrect(691,356,706,375,3,BLUE,null);
poly([[694,375],[698.5,378],[703,375]],null,0,true,BLUE);
text('S',698.5,365.5,12,'#fff','center');
// right-hand value tags
rrect(1829.5,384,1878.5,404,1.5,'#fff','#f0475a');
text(lastPrice.toLocaleString('en-US'),1854,394,14,'#f0475a','center');
rrect(1829,440,1868,461,1,'#ef3e52',null);
text(String(avgBuyPrice),1848.5,450.5,14,'#fff','center');
rrect(1829.5,842,1859.5,861,1.5,'#fff','#f0475a');
text(String(lastVolume),1846,853,14,'#f0475a','center');
// logo
shapes.push({type:'circle',xref:'paper',yref:'paper',x0:px(18.5),x1:px(52),y0:py(850),y1:py(816.5),fillcolor:'#fff',line:{color:'#e0e3eb',width:1},layer:'above'});
poly([[25,828],[36,828],[36,839],[31,839],[31,833],[25,833]],null,0,true,'#131722');
poly([[41,828],[46,828],[40.5,839],[35.5,839]],null,0,true,'#131722');
disc(38.7,829.9,1.9,'#131722');

const xRange=[(L-16)/17.71,(R-16)/17.71];
const tickFont={size:14,color:TICK,family:KR};
const layout={
  width:W,height:H,autosize:false,showlegend:false,
  margin:{l:0,r:0,t:0,b:0,pad:0},
  paper_bgcolor:'#fff',plot_bgcolor:'#fff',
  barmode:'overlay',dragmode:false,hovermode:false,
  xaxis:{domain:[px(L),px(R)],range:xRange,anchor:'y',tickmode:'array',tickvals:timeTicks,ticktext:timeTickText,tickangle:0,showgrid:true,gridcolor:GRID,gridwidth:1,zeroline:false,ticks:'outside',ticklen:6,tickcolor:'rgba(0,0,0,0)',tickfont:tickFont,showline:false,rangeslider:{visible:false}},
  xaxis2:{domain:[px(L),px(R)],range:xRange,anchor:'y2',tickmode:'array',tickvals:timeTicks,showticklabels:false,showgrid:true,gridcolor:GRID,gridwidth:1,zeroline:false,showline:false,rangeslider:{visible:false}},
  yaxis:{domain:[py(861),py(679)],range:[0,(861-679)/9.05],anchor:'x',side:'right',tickmode:'array',tickvals:volumeTicks,ticktext:volumeTickText,showgrid:true,gridcolor:GRID,gridwidth:1,zeroline:false,showline:true,linecolor:'#e3e6ea',linewidth:1,ticks:'outside',ticklen:8,tickcolor:'rgba(0,0,0,0)',tickfont:tickFont},
  yaxis2:{domain:[py(679),py(55)],range:[(646-679)/0.2065,(646-55)/0.2065],anchor:'x2',side:'right',tickmode:'array',tickvals:priceTicks,tickformat:',d',showgrid:true,gridcolor:GRID,gridwidth:1,zeroline:false,showline:true,linecolor:'#e3e6ea',linewidth:1,ticks:'outside',ticklen:8,tickcolor:'rgba(0,0,0,0)',tickfont:tickFont},
  shapes,annotations
};
Plotly.newPlot('chart',traces,layout,{displayModeBar:false,staticPlot:true,responsive:false});
</script>
</body>
</html>
